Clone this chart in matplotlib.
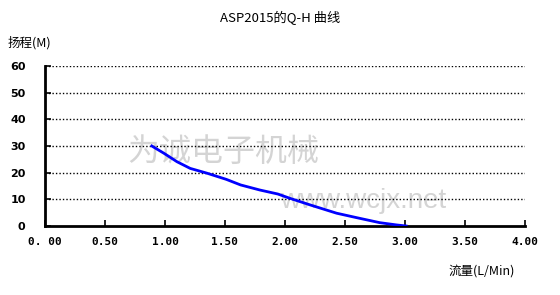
import matplotlib
matplotlib.use("Agg")
import matplotlib.pyplot as plt

plt.rcParams["font.family"] = ["Noto Sans CJK SC", "DejaVu Sans"]

# Q-H curve data (flow in L/Min, head in M)
flow = [0.89, 0.99, 1.10, 1.21, 1.35, 1.51, 1.63, 1.79, 1.94, 2.04, 2.21, 2.43, 2.60, 2.79, 2.93, 3.01]
head = [30, 27.3, 24.1, 21.6, 19.8, 17.5, 15.4, 13.5, 12.0, 10.4, 7.9, 4.8, 3.1, 1.25, 0.4, 0]

x_ticks = [0.0, 0.5, 1.0, 1.5, 2.0, 2.5, 3.0, 3.5, 4.0]
x_labels = ["0. 00", "0.50", "1.00", "1.50", "2.00", "2.50", "3.00", "3.50", "4.00"]
y_ticks = [0, 10, 20, 30, 40, 50, 60]

fig = plt.figure(figsize=(5.6, 2.95), dpi=100)
ax = fig.add_axes([0.0804, 0.2339, 0.857, 0.5424])

# watermark (under the grid and the curve)
ax.text(0.227, 0.485, "为诚电子机械", fontsize=23, color="#d4d4d4",
        ha="left", va="center", transform=fig.transFigure, zorder=0.5)
ax.text(0.500, 0.319, "www.wcjx.net", fontsize=20, color="#d4d4d4",
        family="Liberation Sans", ha="left", va="center",
        transform=fig.transFigure, zorder=0.5)

for y in y_ticks[1:]:
    ax.axhline(y, color="black", linestyle=(0, (1, 1.5)), linewidth=1.0, zorder=1)

ax.plot(flow, head, color="#0000ff", linewidth=2.0, zorder=3)

ax.set_xlim(0, 4)
ax.set_ylim(0, 60)
ax.set_xticks(x_ticks)
ax.set_xticklabels(x_labels, family="DejaVu Sans Mono", fontsize=8, fontweight="bold")
ax.set_yticks(y_ticks)
ax.set_yticklabels([str(v) for v in y_ticks], family="DejaVu Sans", fontsize=8, fontweight="bold")
ax.tick_params(axis="x", direction="in", length=4, width=1.2, pad=8)
ax.tick_params(axis="y", direction="in", length=4, width=1.2, pad=14)

for s in ["top", "right"]:
    ax.spines[s].set_visible(False)
ax.spines["left"].set_linewidth(2)
ax.spines["bottom"].set_linewidth(2)
ax.patch.set_alpha(0)

fig.text(0.5, 0.94, "ASP2015的Q-H 曲线", fontsize=9.5, ha="center", va="center")
fig.text(0.014, 0.855, "扬程(M)", fontsize=9, ha="left", va="center")
fig.text(0.80, 0.08, "流量(L/Min)", fontsize=9, ha="left", va="center")

fig.savefig("out.png", dpi=100)
